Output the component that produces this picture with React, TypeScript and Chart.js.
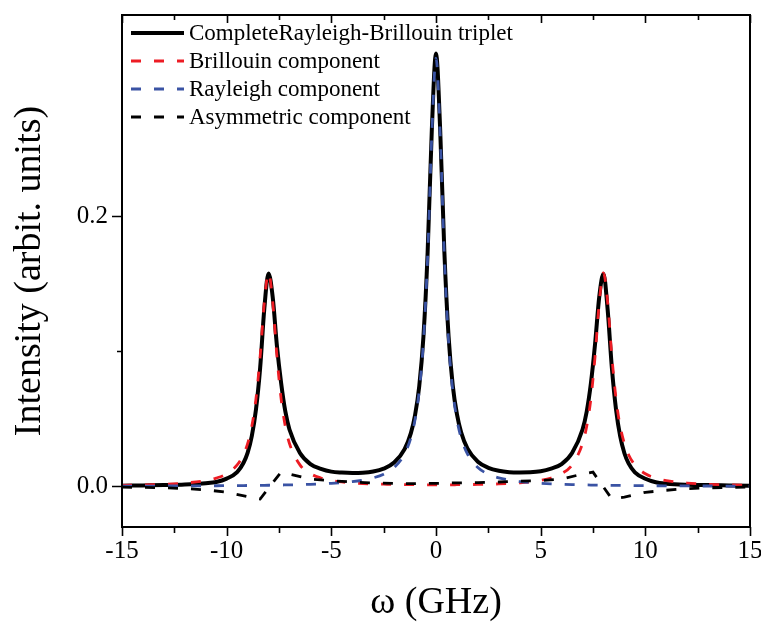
import React, { useEffect, useRef } from 'react';
import { Chart, registerables } from 'chart.js';

Chart.register(...registerables);

// ---- data ----
const omega = [-15, -14, -13, -12, -11, -10.5, -10, -9.5, -9.2, -9, -8.8, -8.6, -8.4, -8.2, -8, -7.8, -7.6, -7.4, -7.2, -7, -6.5, -6, -5.5, -5, -4.5, -4, -3.5, -3, -2.5, -2, -1.5, -1.2, -1, -0.8, -0.6, -0.4, -0.2, 0, 0.2, 0.4, 0.6, 0.8, 1, 1.2, 1.5, 2, 2.5, 3, 3.5, 4, 4.5, 5, 5.5, 6, 6.5, 7, 7.2, 7.4, 7.6, 7.8, 8, 8.2, 8.4, 8.6, 8.8, 9, 9.2, 9.5, 10, 10.5, 11, 12, 13, 14, 15];

const completeTriplet = [0.0006, 0.0008, 0.001, 0.0014, 0.0024, 0.0033, 0.0058, 0.0107, 0.0174, 0.0249, 0.0372, 0.057, 0.0879, 0.1319, 0.1577, 0.1401, 0.1042, 0.0768, 0.0557, 0.0422, 0.0248, 0.0166, 0.0131, 0.011, 0.0103, 0.01, 0.0102, 0.0111, 0.0132, 0.0177, 0.0277, 0.0395, 0.0529, 0.0743, 0.1109, 0.1733, 0.2639, 0.3205, 0.264, 0.1736, 0.1112, 0.0748, 0.0535, 0.0401, 0.0282, 0.0183, 0.0138, 0.0116, 0.0106, 0.0104, 0.0105, 0.0112, 0.0132, 0.0166, 0.0248, 0.0422, 0.0555, 0.0764, 0.1057, 0.1407, 0.1574, 0.1308, 0.088, 0.057, 0.037, 0.0246, 0.0171, 0.0105, 0.0057, 0.0031, 0.0021, 0.0013, 0.001, 0.0008, 0.0006];

const brillouin = [0.00087, 0.00117, 0.00165, 0.00253, 0.00438, 0.0062, 0.0094, 0.0159, 0.0235, 0.0317, 0.0445, 0.0649, 0.0964, 0.1363, 0.1581, 0.1364, 0.0965, 0.065, 0.0446, 0.0318, 0.016, 0.0095, 0.0063, 0.0045, 0.0034, 0.0027, 0.0022, 0.0019, 0.0017, 0.0015, 0.0014, 0.0013, 0.0013, 0.0012, 0.0012, 0.0012, 0.0012, 0.0012, 0.0012, 0.0012, 0.0012, 0.0012, 0.0013, 0.0013, 0.0014, 0.0015, 0.0017, 0.0019, 0.0022, 0.0027, 0.0034, 0.0045, 0.0063, 0.0095, 0.016, 0.0318, 0.0446, 0.065, 0.0965, 0.1364, 0.1581, 0.1363, 0.0964, 0.0649, 0.0445, 0.0317, 0.0235, 0.0159, 0.0094, 0.0062, 0.00438, 0.00253, 0.00165, 0.00117, 0.00087];

const rayleigh = [0.00026, 0.0003, 0.00035, 0.00041, 0.00048, 0.00053, 0.00059, 0.00065, 0.00069, 0.00072, 0.00076, 0.00079, 0.00083, 0.00087, 0.00091, 0.00096, 0.00101, 0.00107, 0.00113, 0.00119, 0.00138, 0.00162, 0.00193, 0.00233, 0.00287, 0.00362, 0.00471, 0.00638, 0.0091, 0.014, 0.0241, 0.0361, 0.0495, 0.071, 0.1075, 0.1699, 0.2604, 0.317, 0.2604, 0.1699, 0.1075, 0.071, 0.0495, 0.0361, 0.0241, 0.014, 0.0091, 0.00638, 0.00471, 0.00362, 0.00287, 0.00233, 0.00193, 0.00162, 0.00138, 0.00119, 0.00113, 0.00107, 0.00101, 0.00096, 0.00091, 0.00087, 0.00083, 0.00079, 0.00076, 0.00072, 0.00069, 0.00065, 0.00059, 0.00053, 0.00048, 0.00041, 0.00035, 0.0003, 0.00026];

const asymOmega = [-15, -14, -13, -12, -11, -10, -9, -8.4, -7.4, -7, -6, -5, -4, -3, -2, -1, 0, 1, 2, 3, 4, 5, 6, 7, 7.5, 8.4, 9, 10, 11, 12, 13, 14, 15];
const asymmetric = [-0.0005, -0.0007, -0.001, -0.0015, -0.0025, -0.0042, -0.0075, -0.0093, 0.0107, 0.0092, 0.0055, 0.0042, 0.0033, 0.0026, 0.0022, 0.0021, 0.0023, 0.0027, 0.0028, 0.0033, 0.004, 0.0044, 0.0055, 0.0092, 0.0106, -0.0092, -0.0078, -0.0043, -0.0028, -0.0016, -0.001, -0.0007, -0.0005];

const xMajorTicks = [-15, -10, -5, 0, 5, 10, 15];
const xMinorTicks = [-12.5, -7.5, -2.5, 2.5, 7.5, 12.5];
const yMajorTicks = [0, 0.2];
const yMinorTicks = [0.1];

const seriesLabels = [
  'CompleteRayleigh-Brillouin triplet',
  'Brillouin component',
  'Rayleigh component',
  'Asymmetric component',
];

const SERIF = "'Times New Roman', 'Liberation Serif', serif";
const RED = '#ed1c24';
const BLUE = '#3a53a4';

function zeroPadding(s: any) {
  s.paddingTop = 0;
  s.paddingBottom = 0;
  s.paddingLeft = 0;
  s.paddingRight = 0;
}

export default function App() {
  const ref = useRef<HTMLCanvasElement | null>(null);

  useEffect(() => {
    const canvas = ref.current;
    if (!canvas) return;
    const pts = (xs: number[], ys: number[]) => xs.map((x, i) => ({ x, y: ys[i] }));

    const framePlugin = {
      id: 'frameAndLegend',
      afterDatasetsDraw(chart: any) {
        const { ctx, chartArea: a, scales } = chart;
        const xs = scales.x;
        const ys = scales.y;
        ctx.save();
        ctx.setLineDash([]);
        ctx.strokeStyle = '#000';
        ctx.lineWidth = 2;
        ctx.strokeRect(a.left, a.top, a.right - a.left, a.bottom - a.top);
        ctx.lineWidth = 1.6;
        ctx.beginPath();
        for (const v of xMajorTicks) {
          const p = Math.round(xs.getPixelForValue(v)) + 0.5;
          ctx.moveTo(p, a.bottom);
          ctx.lineTo(p, a.bottom + 9);
          ctx.moveTo(p, a.top);
          ctx.lineTo(p, a.top + 8);
        }
        for (const v of xMinorTicks) {
          const p = Math.round(xs.getPixelForValue(v)) + 0.5;
          ctx.moveTo(p, a.bottom);
          ctx.lineTo(p, a.bottom + 6);
          ctx.moveTo(p, a.top);
          ctx.lineTo(p, a.top + 5);
        }
        for (const v of yMajorTicks) {
          const p = Math.round(ys.getPixelForValue(v)) + 0.5;
          ctx.moveTo(a.left, p);
          ctx.lineTo(a.left - 10, p);
        }
        for (const v of yMinorTicks) {
          const p = Math.round(ys.getPixelForValue(v)) + 0.5;
          ctx.moveTo(a.left, p);
          ctx.lineTo(a.left - 5, p);
        }
        ctx.stroke();

        // legend
        const dsets = chart.data.datasets;
        ctx.font = `23px ${SERIF}`;
        ctx.textBaseline = 'middle';
        ctx.textAlign = 'left';
        dsets.forEach((ds: any, i: number) => {
          const y = a.top + 18 + i * 28;
          ctx.strokeStyle = ds.borderColor;
          ctx.lineWidth = ds.borderWidth;
          ctx.setLineDash(ds.borderDash && ds.borderDash.length ? [10, 13] : []);
          ctx.beginPath();
          ctx.moveTo(a.left + 9, y);
          ctx.lineTo(a.left + 62, y);
          ctx.stroke();
          ctx.fillStyle = '#000';
          ctx.fillText(ds.label, a.left + 67, y + 1);
        });
        ctx.restore();
      },
    };

    const chart = new Chart(canvas, {
      type: 'line',
      data: {
        datasets: [
          {
            label: seriesLabels[0],
            data: pts(omega, completeTriplet),
            borderColor: '#000',
            borderWidth: 4,
            borderDash: [],
            pointRadius: 0,
            cubicInterpolationMode: 'monotone',
            order: 4,
          },
          {
            label: seriesLabels[1],
            data: pts(omega, brillouin),
            borderColor: RED,
            borderWidth: 2.8,
            borderDash: [10, 13],
            pointRadius: 0,
            cubicInterpolationMode: 'monotone',
            order: 3,
          },
          {
            label: seriesLabels[2],
            data: pts(omega, rayleigh),
            borderColor: BLUE,
            borderWidth: 2.8,
            borderDash: [10, 13],
            pointRadius: 0,
            cubicInterpolationMode: 'monotone',
            order: 2,
          },
          {
            label: seriesLabels[3],
            data: pts(asymOmega, asymmetric),
            borderColor: '#000',
            borderWidth: 2.8,
            borderDash: [10, 13],
            pointRadius: 0,
            tension: 0,
            order: 1,
          },
        ],
      },
      options: {
        responsive: false,
        animation: false,
        devicePixelRatio: 1,
        layout: { padding: { top: 15, right: 11, left: 0, bottom: 0 } },
        plugins: { legend: { display: false }, tooltip: { enabled: false } },
        scales: {
          x: {
            type: 'linear',
            min: -15,
            max: 15,
            afterBuildTicks: (s: any) => {
              s.ticks = xMajorTicks.map((v) => ({ value: v }));
            },
            afterFit: (s: any) => {
              s.height = 96;
              zeroPadding(s);
            },
            grid: { display: false, drawTicks: false },
            border: { display: false },
            ticks: {
              color: '#000',
              font: { family: SERIF, size: 25 },
              padding: 9,
              maxRotation: 0,
              autoSkip: false,
              callback: (v: any) => String(v),
            },
            title: {
              display: true,
              text: 'ω (GHz)',
              color: '#000',
              font: { family: SERIF, size: 38, lineHeight: 1 },
              padding: { top: 0, bottom: 1 },
            },
          },
          y: {
            type: 'linear',
            min: -0.03,
            max: 0.349,
            afterBuildTicks: (s: any) => {
              s.ticks = yMajorTicks.map((v) => ({ value: v }));
            },
            afterFit: (s: any) => {
              s.width = 122;
              zeroPadding(s);
            },
            grid: { display: false, drawTicks: false },
            border: { display: false },
            ticks: {
              color: '#000',
              font: { family: SERIF, size: 25 },
              padding: 14,
              callback: (v: any) => Number(v).toFixed(1),
            },
            title: {
              display: true,
              text: 'Intensity (arbit. units)',
              color: '#000',
              font: { family: SERIF, size: 38, lineHeight: 1 },
              padding: { top: 11, bottom: 0 },
            },
          },
        },
      },
      plugins: [framePlugin],
    } as any);

    return () => chart.destroy();
  }, []);

  return (
    <div style={{ position: 'fixed', left: 0, top: 0, width: 761, height: 623, background: '#fff' }}>
      <canvas ref={ref} width={761} height={623} style={{ width: 761, height: 623, display: 'block' }} />
    </div>
  );
}
